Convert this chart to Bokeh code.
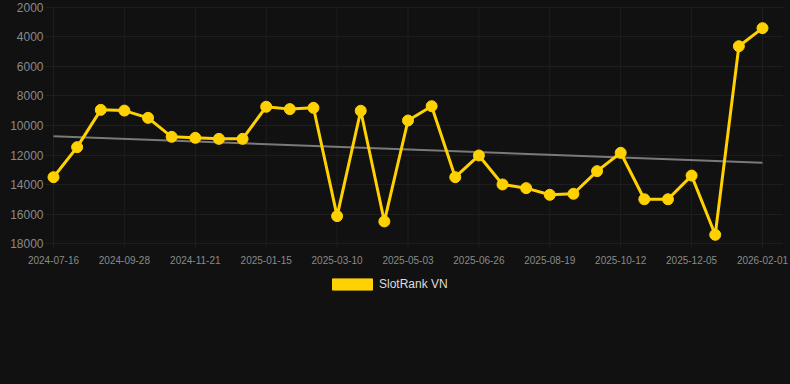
from bokeh.plotting import figure
from bokeh.models import (Range1d, FixedTicker, Legend, LegendItem, ColumnDataSource,
                          GlobalInlineStyleSheet)
from bokeh.embed import file_html
from bokeh.resources import INLINE

# ---- data ----
tick_labels = ["2024-07-16", "2024-09-28", "2024-11-21", "2025-01-15", "2025-03-10",
               "2025-05-03", "2025-06-26", "2025-08-19", "2025-10-12", "2025-12-05",
               "2026-02-01"]
ranks = [13500, 11470, 8950, 9000, 9490, 10770, 10840, 10910, 10910, 8740,
         8900, 8810, 16130, 9010, 16490, 9670, 8700, 13500, 12030, 13990,
         14240, 14690, 14620, 13090, 11850, 14990, 14990, 13390, 17390, 4650,
         3430]
trend = [10730, 12530]
series_name = "SlotRank VN"
y_ticks = [2000, 4000, 6000, 8000, 10000, 12000, 14000, 16000, 18000]

# ---- styles ----
BG = "#111111"
GRID = "#1e1e1e"
TXT = "#8a8a8a"
YEL = "#FFD100"
FONT = "Liberation Sans"

idx = list(range(len(ranks)))
tick_pos = idx[::3]
NAN = float("nan")

# frame spans x=45..783 px, y=6..300 px; 2000 at 6.5 px, 18000 at 243.3 px
upp = 16000 / 236.8
xpp = 30 / 709.0
p = figure(width=790, height=384, output_backend="svg", toolbar_location=None,
           x_range=Range1d(0 - 8 * xpp, 30 + 21 * xpp),
           y_range=Range1d(18000 + 56.7 * upp, 2000 - 0.5 * upp),
           background_fill_color=BG, border_fill_color=BG,
           min_border_left=45, min_border_right=7, min_border_top=6, min_border_bottom=84)
p.stylesheets = [GlobalInlineStyleSheet(css="body{margin:0 !important;background:#111111;overflow:hidden;}")]
p.outline_line_color = None

p.xaxis.ticker = FixedTicker(ticks=tick_pos)
p.xaxis.major_label_overrides = {i: lab for i, lab in zip(tick_pos, tick_labels)}
p.yaxis.ticker = FixedTicker(ticks=y_ticks)

for ax in (p.xaxis[0], p.yaxis[0]):
    ax.axis_line_color = None
    ax.major_tick_line_color = None
    ax.major_tick_in = 0
    ax.major_tick_out = 0
    ax.minor_tick_line_color = None
    ax.major_label_text_color = TXT
    ax.major_label_text_font = FONT
p.yaxis.major_label_standoff = 2
p.yaxis.major_label_text_font_size = "12px"
p.xaxis.major_label_standoff = -45
p.xaxis.major_label_text_font_size = "10px"

p.xgrid.visible = False
p.ygrid.ticker = FixedTicker(ticks=y_ticks)
p.ygrid.grid_line_color = GRID
p.ygrid.grid_line_width = 1

# vertical grid lines, from top tick down past the last tick (tick marks)
n = len(tick_pos)
p.segment(x0=tick_pos, x1=tick_pos, y0=[y_ticks[0]] * n, y1=[y_ticks[-1] + 5 * upp] * n,
          line_color=GRID, line_width=1)

# trend line
p.line([idx[0], idx[-1]], trend, line_color="#7a7a7a", line_width=2)

src = ColumnDataSource(dict(x=idx, y=ranks))
p.line("x", "y", source=src, line_color=YEL, line_width=3)
p.scatter("x", "y", source=src, size=11, fill_color=YEL, line_color=YEL)

# legend swatch renderer (draws nothing in the plot)
sw = p.quad(left=[NAN], right=[NAN], top=[NAN], bottom=[NAN], fill_color=YEL, line_color=YEL)
legend = Legend(items=[LegendItem(label=series_name, renderers=[sw], index=0)],
                location=(282, 9), orientation="horizontal",
                glyph_width=50, glyph_height=14, label_height=14, label_standoff=2,
                padding=0, margin=0, spacing=0,
                background_fill_alpha=0, border_line_color=None,
                label_text_color="#dddddd", label_text_font=FONT,
                label_text_font_size="12px")
p.add_layout(legend, "center")

open("out.html", "w").write(file_html(p, INLINE))
